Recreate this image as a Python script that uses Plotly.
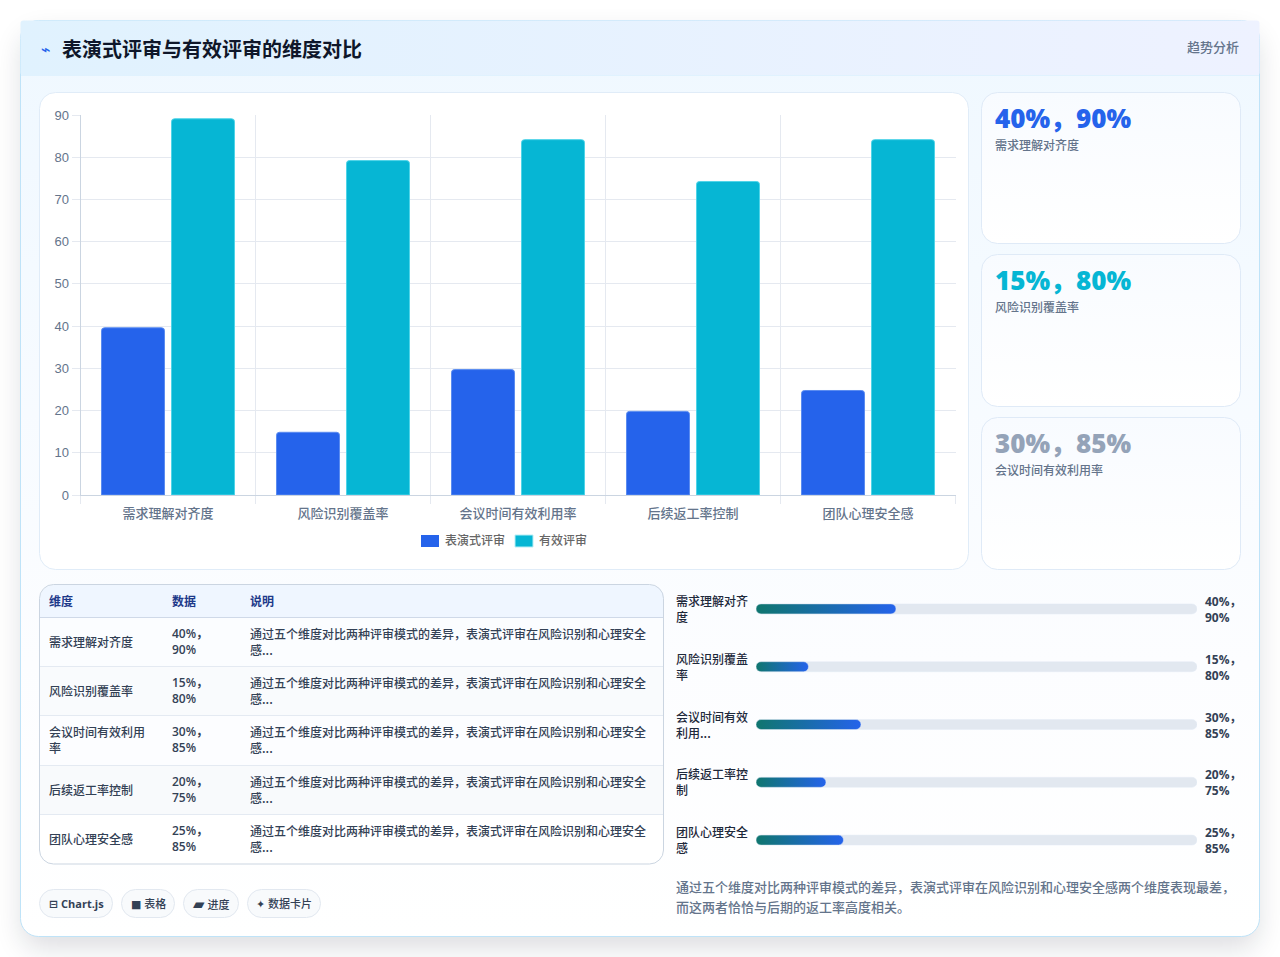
import base64
import plotly.graph_objects as go

# ---- data ----
CATEGORIES = ["需求理解对齐度", "风险识别覆盖率", "会议时间有效利用率", "后续返工率控制", "团队心理安全感"]
SERIES_A_NAME = "表演式评审"
SERIES_B_NAME = "有效评审"
SERIES_A = [40, 15, 30, 20, 25]
SERIES_B = [90, 80, 85, 75, 85]
Y_TICKS = [0, 10, 20, 30, 40, 50, 60, 70, 80, 90]
TITLE = "表演式评审与有效评审的维度对比"
BADGE = "趋势分析"
TABLE_HEAD = ["维度", "数据", "说明"]
TABLE_DIMS = ["需求理解对齐度", "风险识别覆盖率", "会议时间有效利用<br>率", "后续返工率控制", "团队心理安全感"]
NOTE = "通过五个维度对比两种评审模式的差异，表演式评审在风险识别和心理安全<br>感..."
PROGRESS_LABELS = ["需求理解对齐<br>度", "风险识别覆盖<br>率", "会议时间有效<br>利用...", "后续返工率控<br>制", "团队心理安全<br>感"]
PROGRESS_TRACK = [126, 126, 126, 126, 126]
ICON = "<span style=\"font-family:'DejaVu Sans';font-size:{}px\">{}</span> {}"
CHIPS = [ICON.format(11, "⊟", "Chart.js"), ICON.format(11, "■", "表格"), ICON.format(15, "▰", "进度"), ICON.format(11, "✦", "数据卡片")]
CHIP_WEIGHTS = [700, 500, 500, 500]
SUMMARY = ["通过五个维度对比两种评审模式的差异，表演式评审在风险识别和心理安全感两个维度表现最差，",
           "而这两者恰恰与后期的返工率高度相关。"]
CARD_COLORS = ["#2563eb", "#06b6d4", "#94a3b8"]

BLUE, CYAN = "#2563eb", "#06b6d4"
CJK = "Noto Sans CJK SC"
LATIN_CJK = "'Open Sans','Noto Sans CJK SC'"

W, H = 1280, 957


def fx(x):
    return x / W


def fy(y):
    return 1 - y / H


# ---- page furniture: panel, header, cards, table rows, chips ----
def rrect(x0, y0, x1, y1, r, fill, stroke="none", extra=""):
    return (f'<rect x="{x0}" y="{y0}" width="{x1-x0}" height="{y1-y0}" rx="{r}" ry="{r}" '
            f'fill="{fill}" stroke="{stroke}" {extra}/>')


row_edges = [618, 666, 715, 765, 814, 864]
row_text_y = [641, 690, 739, 789, 838]
row_fills = ["#fbfdff", "#f9fbfd", "#fcfdff", "#f8fafc", "#ffffff"]
svg = [f'<svg xmlns="http://www.w3.org/2000/svg" width="{W}" height="{H}" viewBox="0 0 {W} {H}">',
       '<defs>',
       '<filter id="sh" x="-10%" y="-10%" width="120%" height="125%"><feGaussianBlur stdDeviation="14"/></filter>',
       '<linearGradient id="body" x1="0" y1="0" x2="0" y2="1">'
       '<stop offset="0" stop-color="#eff8ff"/><stop offset="0.7" stop-color="#fcfdff"/>'
       '<stop offset="1" stop-color="#ffffff"/></linearGradient>',
       '<linearGradient id="head" x1="0" y1="0" x2="1" y2="0">'
       '<stop offset="0" stop-color="#e0f2fe"/><stop offset="1" stop-color="#eef2ff"/></linearGradient>',
       '<linearGradient id="card" x1="0" y1="0" x2="0" y2="1">'
       '<stop offset="0" stop-color="#f8fbff"/><stop offset="1" stop-color="#ffffff"/></linearGradient>',
       '<clipPath id="tbl"><rect x="40" y="585" width="624" height="279" rx="14"/></clipPath>',
       '</defs>',
       '<rect width="1280" height="957" fill="#ffffff"/>',
       rrect(22, 34, 1258, 948, 18, "#0f172a", extra='opacity="0.14" filter="url(#sh)"'),
       rrect(20.5, 20.5, 1259.5, 936.5, 18, "url(#body)", "#bfe3f8"),
       rrect(20.5, 20.5, 1259.5, 75.5, 3, "url(#head)"),
       '<line x1="21" y1="75.5" x2="1259" y2="75.5" stroke="#e0f2fe"/>',
       rrect(39.5, 92.5, 968.5, 569.5, 16, "#ffffff", "#e0ecf8")]
for y0, y1 in [(92.5, 243.5), (254.5, 406.5), (417.5, 569.5)]:
    svg.append(rrect(981.5, y0, 1240.5, y1, 16, "url(#card)", "#dfeaf7"))
svg.append('<g clip-path="url(#tbl)">')
svg.append('<rect x="40" y="585" width="624" height="33" fill="#eff6ff"/>')
for i, fill in enumerate(row_fills):
    svg.append(f'<rect x="40" y="{row_edges[i]}" width="624" height="{row_edges[i+1]-row_edges[i]}" fill="{fill}"/>')
for y in row_edges[1:-1]:
    svg.append(f'<line x1="40" y1="{y+0.5}" x2="664" y2="{y+0.5}" stroke="#e4eaf2"/>')
svg.append('<line x1="40" y1="617.5" x2="664" y2="617.5" stroke="#cfd9e8"/>')
svg.append('</g>')
svg.append(rrect(39.5, 584.5, 663.5, 864, 14, "none", "#cbd5e1"))
chip_boxes = [(39.5, 112.5), (121.5, 174.5), (183.5, 238.5), (247.5, 320.5)]
for x0, x1 in chip_boxes:
    svg.append(rrect(x0, 889.5, x1, 917.5, 14, "#f8fafc", "#e2e8f0"))
svg.append('</svg>')
background = "data:image/svg+xml;base64," + base64.b64encode("".join(svg).encode()).decode()

fig = go.Figure()

# keeps the gridline axis on the page; the bars use their own value scale
fig.add_scatter(x=CATEGORIES[:1], y=[0], xaxis="x", yaxis="y", mode="markers", marker=dict(opacity=0),
                showlegend=False, hoverinfo="skip")

# grouped bars; this value scale runs a touch longer than the gridline scale
fig.add_bar(x=CATEGORIES, y=SERIES_A, name=SERIES_A_NAME, xaxis="x", yaxis="y2",
            marker=dict(color=BLUE, cornerradius=3, line=dict(color="#5b8cf0", width=1)), showlegend=False)
fig.add_bar(x=CATEGORIES, y=SERIES_B, name=SERIES_B_NAME, xaxis="x", yaxis="y2",
            marker=dict(color=CYAN, cornerradius=3, line=dict(color="#4fd4e8", width=1)), showlegend=False)

# progress rows: track, then the fill
fig.add_bar(y=CATEGORIES, x=PROGRESS_TRACK, orientation="h", xaxis="x2", yaxis="y3", width=10 / 57.8,
            offsetgroup="p", marker=dict(color="#e2e8f0"), showlegend=False, hoverinfo="skip")
fig.add_bar(y=CATEGORIES, x=SERIES_A, orientation="h", xaxis="x2", yaxis="y3", width=10 / 57.8,
            offsetgroup="p", marker=dict(color="#1a6cab"), showlegend=False)

notes = []


def text(x, y, s, size=12, color="#334155", weight=400, family=CJK, anchor="left", ya="middle"):
    notes.append(dict(x=fx(x), y=fy(y), xref="paper", yref="paper", text=s, showarrow=False,
                      xanchor=anchor, yanchor=ya, align=anchor, borderpad=0, borderwidth=0,
                      font=dict(size=size, color=color, family=family, weight=weight)))


def pair(a, b, sep="，"):
    return f"{a}%{sep}{b}%"


# header
text(41, 49.5, "⌁", 16, BLUE, 700, "DejaVu Sans")
text(62, 48, TITLE, 20, "#0f172a", 700)
text(1239, 47, BADGE, 13, "#64748b", 500, anchor="right")

# stat cards
card_tops = [118, 280, 443]
for i, color in enumerate(CARD_COLORS):
    text(995, card_tops[i], pair(SERIES_A[i], SERIES_B[i]), 26, color, 800, LATIN_CJK)
    text(995, card_tops[i] + 27 - (0 if i == 0 else 0.5), CATEGORIES[i], 12, "#64748b", 500)

# legend
legend_y = 539
fig.add_shape(type="rect", xref="paper", yref="paper", x0=fx(421), x1=fx(439), y0=fy(547), y1=fy(535),
              fillcolor=BLUE, line=dict(width=0))
fig.add_shape(type="rect", xref="paper", yref="paper", x0=fx(515), x1=fx(533), y0=fy(547), y1=fy(535),
              fillcolor=CYAN, line=dict(color="#b6eef6", width=1))
text(445, legend_y, SERIES_A_NAME, 12, "#666666", 500)
text(539, legend_y, SERIES_B_NAME, 12, "#666666", 500)

# table
for x, head in zip([49, 172, 250], TABLE_HEAD):
    text(x, 600.5, head, 12, "#1e3a8a", 700)
for i in range(5):
    text(49, row_text_y[i], TABLE_DIMS[i], 12, "#334155", 500)
    text(172, row_text_y[i], pair(SERIES_A[i], SERIES_B[i], "，<br>"), 12, "#334155", 600, LATIN_CJK)
    text(250, row_text_y[i], NOTE, 12, "#334155", 500)

# progress labels and values
progress_y = [609, 667, 725, 782, 840]
for i in range(5):
    text(676, progress_y[i] - 0.5, PROGRESS_LABELS[i], 12, "#1e293b", 500)
    text(1205, progress_y[i], pair(SERIES_A[i], SERIES_B[i], "，<br>"), 12, "#334155", 700, LATIN_CJK)

# chips
for (x0, x1), chip, weight in zip(chip_boxes, CHIPS, CHIP_WEIGHTS):
    text((x0 + x1) / 2, 903.5, chip, 11, "#334155", weight, "'Open Sans','Noto Sans CJK SC','DejaVu Sans'", anchor="center")

# summary
text(676, 886, SUMMARY[0], 13, "#64748b", 500)
text(676, 906.5, SUMMARY[1], 13, "#64748b", 500)

fig.update_layout(
    width=W, height=H, autosize=False, margin=dict(l=0, r=0, t=0, b=0, autoexpand=False),
    paper_bgcolor="#ffffff", plot_bgcolor="rgba(0,0,0,0)",
    barmode="group", bargap=0.2, bargroupgap=0.1,
    annotations=notes,
    images=[dict(source=background, xref="paper", yref="paper", x=0, y=1, sizex=1, sizey=1,
                 xanchor="left", yanchor="top", sizing="stretch", layer="below")],
    xaxis=dict(domain=[fx(80.5), fx(955.5)], anchor="y", type="category", categoryarray=CATEGORIES,
               tickson="boundaries", ticks="outside", ticklen=8, tickcolor="#e5e9f0",
               ticklabelstandoff=6, showgrid=True, gridcolor="#e5e9f0", gridwidth=1, showline=True,
               linecolor="#cbd5e1", tickfont=dict(size=13, color="#64748b", family=CJK, weight=500)),
    yaxis=dict(domain=[fy(495), fy(115)], anchor="x", range=[0, 90], tickvals=Y_TICKS,
               ticks="outside", ticklen=8, tickcolor="#e5e9f0", showgrid=True, gridcolor="#e5e9f0",
               gridwidth=1, zeroline=False, showline=True, linecolor="#cbd5e1",
               tickfont=dict(size=13, color="#64748b", family="Liberation Sans")),
    yaxis2=dict(domain=[fy(495), fy(115)], overlaying="y", anchor="x", range=[0, 90.9], visible=False),
    xaxis2=dict(domain=[fx(756), fx(1197)], anchor="y3", range=[0, 126], visible=False),
    yaxis3=dict(domain=[fy(869), fy(580)], anchor="x2", type="category", categoryarray=CATEGORIES,
                range=[4.5, -0.5], visible=False),
)

# progress bars: pill ends, and a teal to blue fill along each bar
progress_js = """
var gd = document.getElementById('{plot_id}');
var defs = gd.querySelector('svg.main-svg defs');
var ns = 'http://www.w3.org/2000/svg';
var g = document.createElementNS(ns, 'linearGradient');
g.setAttribute('id', 'progressFill');
[['0', '#0f766e'], ['1', '#2563eb']].forEach(function (s) {
  var st = document.createElementNS(ns, 'stop');
  st.setAttribute('offset', s[0]); st.setAttribute('stop-color', s[1]); g.appendChild(st);
});
defs.appendChild(g);
var traces = gd.querySelectorAll('.subplot.x2y3 .barlayer .trace');
traces.forEach(function (tr, idx) {
  tr.querySelectorAll('path').forEach(function (p) {
    var b = p.getBBox(), r = b.height / 2, x1 = b.x + b.width, y0 = b.y, y1 = b.y + b.height;
    p.setAttribute('d', 'M' + (b.x + r) + ',' + y0 + 'H' + (x1 - r) + 'A' + r + ',' + r + ' 0 0 1 ' + (x1 - r) + ',' + y1 +
                        'H' + (b.x + r) + 'A' + r + ',' + r + ' 0 0 1 ' + (b.x + r) + ',' + y0 + 'Z');
    if (idx === traces.length - 1) { p.style.fill = 'url(#progressFill)'; }
  });
});
"""
fig.write_html("out.html", config=dict(displayModeBar=False), post_script=progress_js)
